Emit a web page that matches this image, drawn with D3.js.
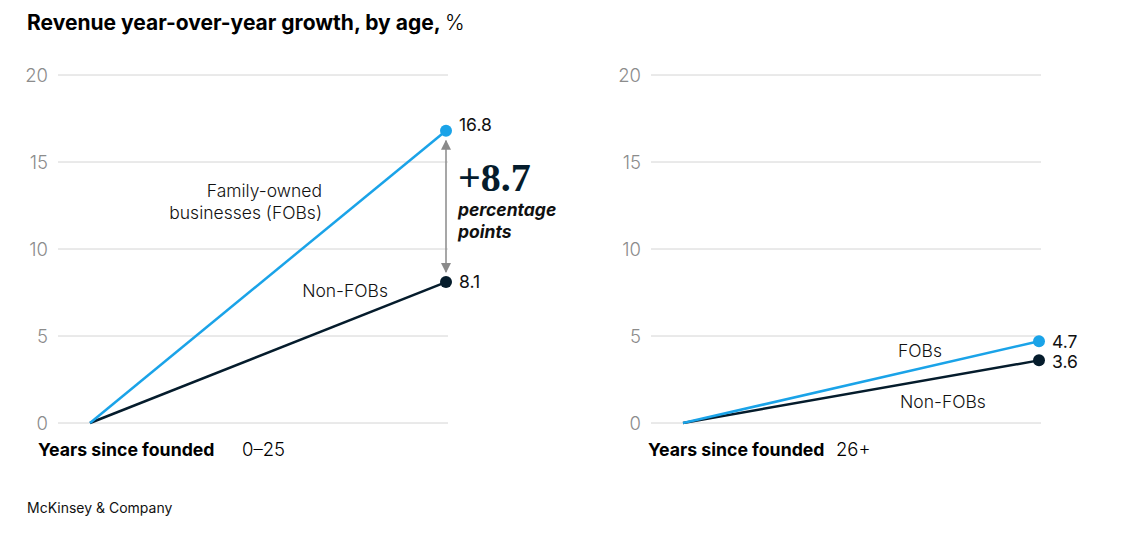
<!DOCTYPE html>
<html>
<head>
<meta charset="utf-8">
<script src="https://cdn.jsdelivr.net/npm/d3@7"></script>
<style>
  body { margin: 0; background: #fff; }
  svg text { font-family: Inter, "Noto Sans", sans-serif; }
</style>
</head>
<body>
<svg id="chart" width="1144" height="546"></svg>
<script>
// data
const ageGroups = ['0–25', '26+'];
const fobGrowth = [16.8, 4.7];
const nonFobGrowth = [8.1, 3.6];
const yTicks = [0, 5, 10, 15, 20];

const colors = { fob: '#1aa3e8', nonFob: '#051c2c', grid: '#d4d4d4', tick: '#8c8c8c' };

const svg = d3.select('#chart');

// title
const title = svg.append('text')
  .attr('x', 27).attr('y', 30)
  .attr('font-size', 21).attr('font-weight', 700).attr('fill', '#000');
title.append('tspan').text('Revenue year-over-year growth, by age, ');
title.append('tspan').attr('font-weight', 300).text('%');

// footer
svg.append('text')
  .attr('x', 27).attr('y', 513)
  .attr('font-size', 14).attr('fill', '#111')
  .text('McKinsey & Company');

const y = d3.scaleLinear().domain([0, 20]).range([423, 75]);

ageGroups.forEach((group, i) => {
  const dx = i * 593;
  const x = d3.scaleLinear().domain([0, 1]).range([90 + dx, 446 + dx]);
  const g = svg.append('g');

  // grid + tick labels
  g.selectAll('line.grid').data(yTicks).enter().append('line')
    .attr('x1', 58 + dx).attr('x2', 448 + dx)
    .attr('y1', d => y(d)).attr('y2', d => y(d))
    .attr('stroke', colors.grid).attr('stroke-width', 1);
  g.selectAll('text.tick').data(yTicks).enter().append('text')
    .attr('x', 48 + dx).attr('y', d => y(d) + 6.5)
    .attr('text-anchor', 'end').attr('font-size', 18.5).attr('font-weight', 300)
    .attr('fill', colors.tick)
    .text(d => d);

  // x labels
  g.append('text')
    .attr('x', i === 0 ? 38 : 648).attr('y', 456)
    .attr('font-size', 17.7).attr('font-weight', 700).attr('fill', '#000')
    .text('Years since founded');
  g.append('text')
    .attr('x', i === 0 ? 242 : 836).attr('y', 456)
    .attr('font-size', 18.5).attr('font-weight', 300).attr('fill', '#000')
    .text(group);

  const series = [
    { key: 'nonFob', value: nonFobGrowth[i] },
    { key: 'fob', value: fobGrowth[i] },
  ];

  const line = d3.line().x(d => x(d[0])).y(d => y(d[1]));
  series.forEach(s => {
    g.append('path')
      .attr('d', line([[0, 0], [1, s.value]]))
      .attr('fill', 'none').attr('stroke', colors[s.key]).attr('stroke-width', 2.5);
  });
  series.forEach(s => {
    g.append('circle')
      .attr('cx', x(1)).attr('cy', y(s.value)).attr('r', 6)
      .attr('fill', colors[s.key]);
  });

  // value labels
  const labelOffsets = i === 0 ? { fob: 0, nonFob: 6 } : { fob: 7, nonFob: 8 };
  series.forEach(s => {
    g.append('text')
      .attr('x', x(1) + 13).attr('y', y(s.value) + labelOffsets[s.key])
      .attr('font-size', 17.5).attr('font-weight', 400).attr('fill', '#111')
      .text(s.value);
  });
});

// left panel annotations
const xl = d3.scaleLinear().domain([0, 1]).range([90, 446]);
const seriesLabel = (txt, xPos, yPos, anchor) => svg.append('text')
  .attr('x', xPos).attr('y', yPos).attr('text-anchor', anchor)
  .attr('font-size', 17.5).attr('font-weight', 300).attr('fill', '#111').text(txt);

seriesLabel('Family-owned', 322, 197, 'end');
seriesLabel('businesses (FOBs)', 322, 219, 'end');
seriesLabel('Non-FOBs', 388, 297, 'end');

// right panel annotations
seriesLabel('FOBs', 898, 357, 'start');
seriesLabel('Non-FOBs', 900, 408, 'start');

// difference arrow
const defs = svg.append('defs');
defs.append('marker')
  .attr('id', 'arrow').attr('viewBox', '0 0 10 10')
  .attr('refX', 9).attr('refY', 5)
  .attr('markerWidth', 10).attr('markerHeight', 10)
  .attr('markerUnits', 'userSpaceOnUse')
  .attr('orient', 'auto-start-reverse')
  .append('path').attr('d', 'M0,0 L10,5 L0,10 Z').attr('fill', '#8a8a8a');

svg.append('line')
  .attr('x1', xl(1)).attr('x2', xl(1))
  .attr('y1', y(fobGrowth[0]) + 10).attr('y2', y(nonFobGrowth[0]) - 10)
  .attr('stroke', '#8a8a8a').attr('stroke-width', 1.5)
  .attr('marker-start', 'url(#arrow)').attr('marker-end', 'url(#arrow)');

const diff = (fobGrowth[0] - nonFobGrowth[0]).toFixed(1);
svg.append('text')
  .attr('x', 458).attr('y', 191)
  .style('font-family', '"Liberation Serif", serif')
  .attr('font-size', 40).attr('font-weight', 700).attr('fill', '#051c2c')
  .text('+' + diff);
svg.append('text')
  .attr('x', 458).attr('y', 216)
  .attr('font-size', 17.5).attr('font-weight', 700).attr('font-style', 'italic').attr('fill', '#111')
  .text('percentage');
svg.append('text')
  .attr('x', 458).attr('y', 238)
  .attr('font-size', 17.5).attr('font-weight', 700).attr('font-style', 'italic').attr('fill', '#111')
  .text('points');
</script>
</body>
</html>
